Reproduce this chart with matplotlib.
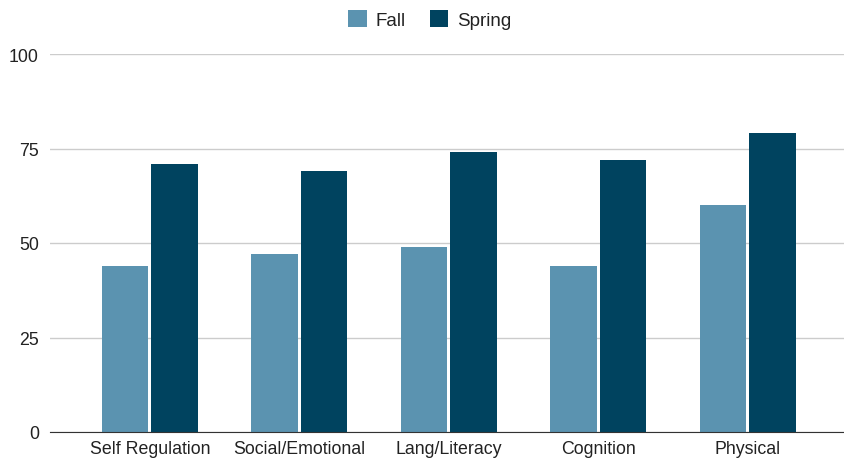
import matplotlib
matplotlib.use("Agg")
import matplotlib.pyplot as plt
import numpy as np

categories = ["Self Regulation", "Social/Emotional", "Lang/Literacy", "Cognition", "Physical"]
fall = [44, 47, 49, 44, 60]
spring = [71, 69, 74, 72, 79]
yticks = [0, 25, 50, 75, 100]

FALL_COLOR = "#5b93b0"
SPRING_COLOR = "#00435f"
TEXT_COLOR = "#222222"
GRID_COLOR = "#cccccc"

plt.rcParams["font.family"] = ["Liberation Sans", "DejaVu Sans"]

fig = plt.figure(figsize=(8.44, 4.6), dpi=100)
ax = fig.add_axes([50 / 844, 1 - 433 / 460, 795 / 844, (433 - 55) / 460])

x = np.arange(len(categories))
w = 0.31
ax.bar(x - 0.167, fall, width=w, color=FALL_COLOR, label="Fall", zorder=2)
ax.bar(x + 0.164, spring, width=w, color=SPRING_COLOR, label="Spring", zorder=2)

ax.set_xlim(-0.67, 4.65)
ax.set_ylim(0, 100)
ax.set_yticks(yticks)
ax.set_xticks(x)
ax.set_xticklabels(categories)
ax.grid(axis="y", color=GRID_COLOR, lw=1, zorder=0)
ax.tick_params(length=0, labelsize=12.8, colors=TEXT_COLOR, pad=6)
ax.tick_params(axis="y", pad=8)
for name, sp in ax.spines.items():
    sp.set_visible(name == "bottom")
ax.spines["bottom"].set_color("#333333")
ax.spines["bottom"].set_zorder(3)

leg = fig.legend(loc="upper center", bbox_to_anchor=(0.509, 1.012), ncol=2, frameon=False,
                 fontsize=13.5, handlelength=1.0, handleheight=1.0, columnspacing=1.3,
                 handletextpad=0.45)
for t in leg.get_texts():
    t.set_color(TEXT_COLOR)

fig.savefig("out.png", dpi=100)
